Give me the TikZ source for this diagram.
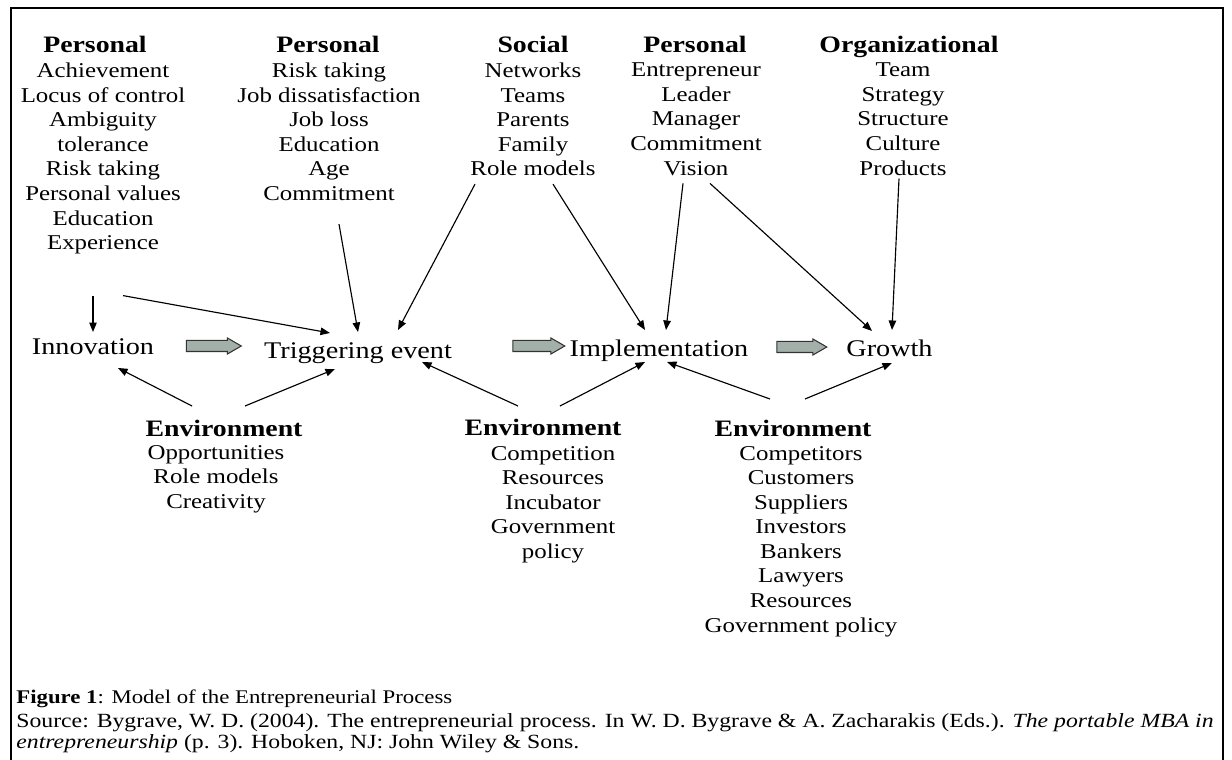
\documentclass[tikz,border=0pt]{standalone}
\usepackage{fontspec}
\setmainfont{Liberation Serif}[FakeStretch=1.18]
\usepackage{xcolor}
\usetikzlibrary{shapes,arrows.meta,positioning,calc}
\definecolor{fatgray}{RGB}{163,176,170}

\begin{document}
\begin{tikzpicture}[x=0.02cm, y=-0.02cm,
    head/.style={anchor=base, inner sep=0, font=\fontsize{13.4}{14}\bfseries\selectfont},
    list/.style={anchor=north, inner sep=0, align=center, font=\fontsize{12}{14}\selectfont},
    stage/.style={anchor=base, inner sep=0, font=\fontsize{13.6}{16}\selectfont},
    fat/.style={single arrow, draw=black!80, fill=fatgray, line width=0.6pt, inner xsep=0, inner ysep=0.1cm,
        minimum height=1.1cm, single arrow head extend=0.05cm, single arrow tip angle=60},
    line/.style={draw, line width=0.65pt, -{Triangle[length=0.19cm, width=0.15cm]}}]

    \useasboundingbox (0,0) rectangle (1232,760);
    \draw[line width=1.1pt] (11,760) -- (11,8) -- (1223,8) -- (1223,760);

    % factors on top
    \node [head] (pers1) at (95,53) {Personal};
    \node [list] (col1) at (103,62.6) {Achievement\\Locus of control\\Ambiguity\\tolerance\\Risk taking\\Personal values\\Education\\Experience};
    \node [head] (pers2) at (328,53) {Personal};
    \node [list] (col2) at (329,62.6) {Risk taking\\Job dissatisfaction\\Job loss\\Education\\Age\\Commitment};
    \node [head] (soc) at (533,53) {Social};
    \node [list] (col3) at (533,62.6) {Networks\\Teams\\Parents\\Family\\Role models};
    \node [head] (pers3) at (695,53) {Personal};
    \node [list] (col4) at (696,62.6) {Entrepreneur\\Leader\\Manager\\Commitment\\Vision};
    \node [head] (org) at (909,53) {Organizational};
    \node [list] (col5) at (903,62.6) {Team\\Strategy\\Structure\\Culture\\Products};

    % the process
    \node [stage] (innov) at (93,355) {Innovation};
    \node [stage] (trig) at (358,359) {Triggering event};
    \node [stage] (impl) at (659,357) {Implementation};
    \node [stage] (growth) at (889.5,357) {Growth};
    \node [fat] (fat1) at (209,346) {};
    \node [fat, minimum height=1.04cm] (fat2) at (534,346) {};
    \node [fat, minimum height=1cm] (fat3) at (797,347) {};

    % environment below
    \node [head] (env1) at (224,437) {Environment};
    \node [list] (envl1) at (216,444.7) {Opportunities\\Role models\\Creativity};
    \node [head] (env2) at (543,436) {Environment};
    \node [list] (envl2) at (553,445.7) {Competition\\Resources\\Incubator\\Government\\policy};
    \node [head] (env3) at (793,437) {Environment};
    \node [list] (envl3) at (801,445.7) {Competitors\\Customers\\Suppliers\\Investors\\Bankers\\Lawyers\\Resources\\Government policy};

    \path [line] ($(col1.south)+(-10,41)$) -- ($(innov.base)+(0,-23)$);
    \path [line] ($(col1.south)+(20,41)$) -- ($(trig.base)+(-28,-26)$);
    \path [line] ($(col2.south)+(10,23)$) -- ($(trig.base)+(0,-27)$);
    \path [line] ($(col3.south)+(-58,7.6)$) -- ($(trig.base)+(40,-29)$);
    \path [line] ($(col3.south)+(20,7.6)$) -- ($(impl.base)+(-14,-27)$);
    \path [line] ($(col4.south)+(-13,7.6)$) -- ($(impl.base)+(7,-27)$);
    \path [line] ($(col4.south)+(14,7.6)$) -- ($(growth.base)+(-17.5,-26)$);
    \path [line] ($(col5.south)+(-4,3)$) -- ($(growth.base)+(2.5,-27)$);

    \path [line] ($(env1.base)+(-32,-31)$) -- ($(innov.base)+(25,13)$);
    \path [line] ($(env1.base)+(21,-31)$) -- ($(trig.base)+(-23,10)$);
    \path [line] ($(env2.base)+(-25,-30)$) -- ($(trig.base)+(64,3)$);
    \path [line] ($(env2.base)+(17,-30)$) -- ($(impl.base)+(-14,5)$);
    \path [line] ($(env3.base)+(-23,-38)$) -- ($(impl.base)+(8,5)$);
    \path [line] ($(env3.base)+(12,-38)$) -- ($(growth.base)+(2.5,6)$);

    % caption
    \node [anchor=base west, inner sep=0, font=\fontsize{11}{13}\selectfont] (cap) at (16,703) {\textbf{Figure 1}: Model of the Entrepreneurial Process};
    \node [anchor=north west, inner sep=0, align=left, font=\fontsize{11.45}{11.8}\selectfont] (src) at (16,713) {Source: Bygrave, W. D. (2004). The entrepreneurial process. In W. D. Bygrave \& A. Zacharakis (Eds.). \textit{The portable MBA in}\\\textit{entrepreneurship} (p. 3). Hoboken, NJ: John Wiley \& Sons.};
\end{tikzpicture}
\end{document}
